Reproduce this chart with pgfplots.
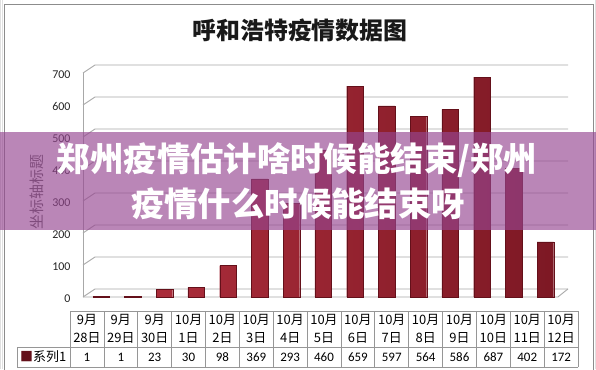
\documentclass[border=0pt]{standalone}
\usepackage{pgfplots}
\usepackage{pgfplotstable}
\pgfplotsset{compat=1.18}
\usepackage{fontspec}
\setmainfont{Carlito}
\newfontfamily\cjk{Noto Sans CJK SC}
\definecolor{barL}{RGB}{178,48,62}
\definecolor{barR}{RGB}{125,24,36}
\definecolor{barEdge}{RGB}{100,16,26}
\definecolor{gridc}{RGB}{168,168,168}
\definecolor{banner}{RGB}{150,70,145}
\definecolor{tabline}{RGB}{150,150,150}

\pgfplotstableread{
x y
0 1
1 1
2 23
3 30
4 98
5 369
6 293
7 460
8 659
9 597
10 564
11 586
12 687
13 402
14 172
}\datatable

\begin{document}
\begin{tikzpicture}[x=1bp,y=1bp]
\path[use as bounding box] (0,0) rectangle (596,369);
\clip (0,0) rectangle (596,369);
\fill[white] (0,0) rectangle (596,369);
% spreadsheet background lines
\foreach \gx in {0,2}{\draw[black!12] (\gx,0) -- (\gx,369);}
\draw[black!12] (595,0) -- (595,369);
\draw[black!45] (4,-5) rectangle (593,365);
% title
\node[font=\cjk\bfseries\fontsize{24}{24}\selectfont, color=black!90] at (300,339) {呼和浩特疫情数据图};
% y label
\node[rotate=90, font=\cjk\fontsize{15}{15}\selectfont, color=black!65] at (37,177) {坐标轴标题};

\begin{axis}[
  at={(83bp,72bp)}, anchor=south west, scale only axis,
  width=485bp, height=232bp,
  xmin=-0.567, xmax=14.71, ymin=0, ymax=725,
  axis line style={draw=none},
  xtick=\empty,
  ytick={0,100,200,300,400,500,600,700},
  major tick length=0pt,
  yticklabel style={font=\fontsize{12}{12}\selectfont, color=black!85, xshift=-9bp, yshift=-1.5bp},
  /pgf/number format/assume math mode=true,
  clip=false,
  ybar, bar width=16.5bp,
]
\pgfplotsinvokeforeach{0,100,200,300,400,500,600,700}{
  \draw[gridc, line width=0.9pt] (axis cs:-0.567,#1) -- ++(12bp,8bp) -- ([yshift=8bp]axis cs:14.71,#1);
}
\draw[gridc, line width=0.9pt] (axis cs:-0.567,0) -- (axis cs:14.39,0) -- ++(10bp,8bp);
\draw[gridc, line width=0.9pt] (axis cs:-0.567,0) -- (axis cs:-0.567,700);
\addplot[draw=barEdge, left color=barL, right color=barR] table[x=x,y=y] {\datatable};
\end{axis}

% data table
\draw[tabline, line width=0.7pt] (70,58) -- (578,58);
\draw[tabline, line width=0.7pt] (17,22) -- (578,22);
\draw[tabline, line width=0.7pt] (17,2) -- (578,2);
\draw[tabline, line width=0.7pt] (17,2) -- (17,22);
\foreach \k in {0,...,15}{
  \draw[tabline, line width=0.7pt] (70+33.87*\k,2) -- (70+33.87*\k,58);
}
\node[anchor=west, inner sep=0pt] at (20,12) {\cjk\fontsize{13}{13}\selectfont\textcolor{barEdge}{■}系列1};
\foreach \m/\d [count=\k from 0] in {9月/28日,9月/29日,9月/30日,10月/1日,10月/2日,10月/3日,10月/4日,10月/5日,10月/6日,10月/7日,10月/8日,10月/9日,10月/10日,10月/11日,10月/12日}{
  \node[font=\cjk\fontsize{13}{13}\selectfont] at (86.93+33.87*\k,49) {\m};
  \node[font=\cjk\fontsize{13}{13}\selectfont] at (86.93+33.87*\k,31) {\d};
}
\foreach \k in {0,...,14}{
  \pgfplotstablegetelem{\k}{y}\of\datatable
  \node[font=\fontsize{13}{13}\selectfont] at (86.93+33.87*\k,12) {\pgfplotsretval};
}

% overlay banner
\fill[banner, opacity=0.65] (0,139) rectangle (596,237);
\node[white, font=\cjk\bfseries\fontsize{33.5}{33.5}\selectfont] at (297,209) {郑州疫情估计啥时候能结束/郑州};
\node[white, font=\cjk\bfseries\fontsize{33.5}{33.5}\selectfont] at (298,165) {疫情什么时候能结束呀};
\end{tikzpicture}
\end{document}
